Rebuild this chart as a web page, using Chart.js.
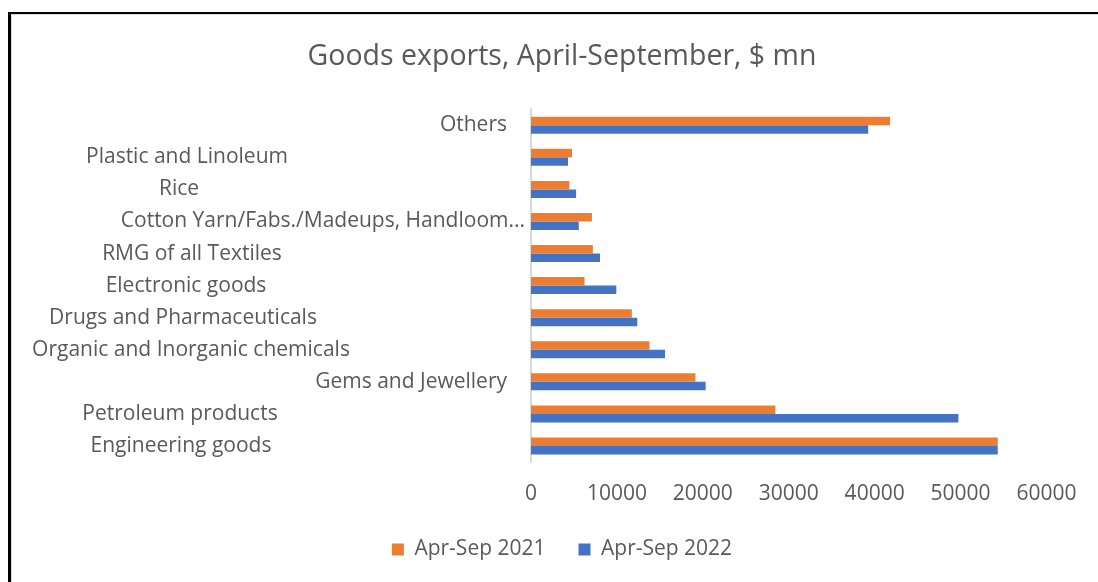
<!DOCTYPE html>
<html lang="en">
<head>
  <meta charset="UTF-8" />
  <title>Goods exports, April-September</title>
  <style>
    html, body { margin: 0; padding: 0; background: #fff; overflow: hidden; }
    .moldura {
      position: absolute; left: 8px; top: 12px; width: 1200px; height: 700px;
      border-left: 3px solid #000; border-top: 2px solid #000;
      box-shadow: inset 1px 1px 0 #d9d9d9;
    }
    #grafico { position: absolute; left: 0; top: 0; }
  </style>
</head>
<body>
  <div class="moldura"></div>
  <canvas id="grafico" width="1098" height="582"></canvas>

  <script src="https://cdn.jsdelivr.net/npm/chart.js@4.4.0/dist/chart.umd.min.js"></script>
  <script>
    // dados
    const categorias = [
      'Others',
      'Plastic and Linoleum',
      'Rice',
      'Cotton Yarn/Fabs./Madeups, Handloom...',
      'RMG of all Textiles',
      'Electronic goods',
      'Drugs and Pharmaceuticals',
      'Organic and Inorganic chemicals',
      'Gems and Jewellery',
      'Petroleum products',
      'Engineering goods'
    ];
    const exportacoes2021 = [41800, 4780, 4460, 7090, 7200, 6230, 11740, 13790, 19140, 28440, 54330];
    const exportacoes2022 = [39250, 4310, 5250, 5560, 8030, 9930, 12370, 15600, 20330, 49750, 54330];
    const ticksX = [0, 10000, 20000, 30000, 40000, 50000, 60000];

    const cinzaTexto = '#595959';
    Chart.defaults.font.family = '"Open Sans", sans-serif';
    Chart.defaults.color = cinzaTexto;

    // rotulos das categorias desenhados a mao (o Excel alinha cada um de um jeito)
    const ajusteRotulos = {
      'Others': { dx: -24, align: 'right' },
      'Cotton Yarn/Fabs./Madeups, Handloom...': { dx: -6, align: 'right' },
      'Gems and Jewellery': { dx: -24, align: 'right' },
      'Plastic and Linoleum': { dx: -344, align: 'center' },
      'Rice': { dx: -352, align: 'center' },
      'RMG of all Textiles': { dx: -339, align: 'center' },
      'Electronic goods': { dx: -345, align: 'center' },
      'Drugs and Pharmaceuticals': { dx: -348, align: 'center' },
      'Organic and Inorganic chemicals': { dx: -340, align: 'center' },
      'Petroleum products': { dx: -351, align: 'center' },
      'Engineering goods': { dx: -350, align: 'center' }
    };

    const rotulosCategorias = {
      id: 'rotulosCategorias',
      afterDraw(chart) {
        const ctx = chart.ctx;
        const escalaY = chart.scales.y;
        const esquerda = chart.chartArea.left;
        ctx.save();
        ctx.font = '21px "Open Sans"';
        ctx.fillStyle = cinzaTexto;
        ctx.textBaseline = 'middle';
        categorias.forEach((nome, i) => {
          const aj = ajusteRotulos[nome] || { dx: -345, align: 'center' };
          ctx.textAlign = aj.align;
          ctx.fillText(nome, esquerda + aj.dx, escalaY.getPixelForValue(i));
        });
        ctx.restore();
      }
    };

    new Chart(document.getElementById('grafico'), {
      type: 'bar',
      data: {
        labels: categorias,
        datasets: [
          {
            label: 'Apr-Sep 2021',
            data: exportacoes2021,
            backgroundColor: '#ED7D31',
            borderWidth: 0
          },
          {
            label: 'Apr-Sep 2022',
            data: exportacoes2022,
            backgroundColor: '#4472C4',
            borderWidth: 0
          }
        ]
      },
      options: {
        indexAxis: 'y',
        responsive: false,
        animation: false,
        devicePixelRatio: 1,
        layout: { padding: { left: 26, right: 0, top: 0, bottom: 12 } },
        datasets: { bar: { categoryPercentage: 0.53, barPercentage: 1 } },
        scales: {
          x: {
            min: 0,
            max: 66000,
            grid: { display: false, drawTicks: false },
            border: { display: false },
            ticks: {
              font: { size: 21 },
              color: cinzaTexto,
              padding: 19,
              callback: v => String(v)
            },
            afterBuildTicks: s => { s.ticks = ticksX.map(v => ({ value: v })); },
            afterFit: s => { s.height = 44; }
          },
          y: {
            grid: { display: false, drawTicks: false },
            border: { display: true, color: '#d9d9d9', width: 2 },
            ticks: { display: false },
            afterFit: s => { s.width = 505; }
          }
        },
        plugins: {
          title: {
            display: true,
            text: 'Goods exports, April-September, $ mn',
            font: { size: 28.5, weight: 'normal' },
            color: cinzaTexto,
            padding: { top: 40, bottom: 35 }
          },
          legend: {
            position: 'bottom',
            labels: {
              boxWidth: 12,
              boxHeight: 12,
              padding: 33,
              font: { size: 21 },
              color: cinzaTexto
            }
          },
          tooltip: { enabled: false }
        }
      },
      plugins: [rotulosCategorias]
    });
  </script>
</body>
</html>
